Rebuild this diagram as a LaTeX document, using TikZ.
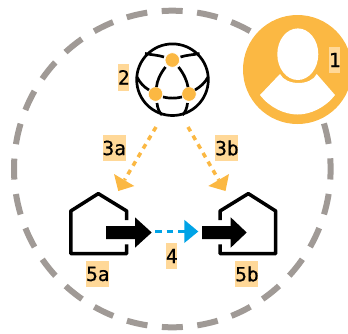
\documentclass[tikz,border=0pt]{standalone}
\usepackage{fontspec}
\setmainfont{DejaVu Sans Mono}[FakeBold=0.6]
\definecolor{ringgrey}{HTML}{A09A96}
\definecolor{amber}{HTML}{FBB843}
\definecolor{tagfill}{HTML}{FFD898}
\definecolor{flowblue}{HTML}{00A3E6}
\tikzset{
  x=1pt,y=-1pt,
  tag/.style={fill=tagfill,inner sep=0pt,minimum height=26.6pt,font=\fontsize{19.5}{20}\selectfont,text=black,anchor=center},
  tagone/.style={tag,minimum width=11.4pt,text width=11.4pt,align=center},
  tagtwo/.style={tag,minimum width=23pt,text width=23pt,align=center},
  ring/.style={draw=ringgrey,line width=6pt,dash pattern=on 21pt off 14.52pt,dash phase=10.5pt},
  globeline/.style={draw=black,line width=2.7pt},
  hub/.style={circle,fill=amber,draw=white,line width=0.6pt,minimum size=14.5pt,inner sep=0pt},
  houseline/.style={draw=black,line width=3.5pt,line join=round,line cap=butt},
  bigarrow/.style={fill=black,draw=none},
  feedorange/.style={draw=amber,line width=3.5pt,dash pattern=on 5pt off 5pt},
  feedblue/.style={draw=flowblue,line width=3.3pt,dash pattern=on 6.5pt off 5pt},
}
\begin{document}
\begin{tikzpicture}
\useasboundingbox (0,0) rectangle (348,333);
\clip (0,0) rectangle (348,333);
% dashed ring
\draw[ring] (172.3,169) circle[radius=158.3];
% person
\fill[amber] (297.5,69.5) circle[radius=54.5];
\fill[white] (297.8,54.2) ellipse[x radius=20.5,y radius=25.8];
\fill[white] (260,95) -- (280,74) .. controls (286,86) and (311,86) .. (316.7,74) -- (335,95)
  .. controls (325,108) and (310,114.5) .. (297.7,114.5) .. controls (285,114.5) and (270,108) .. (260,95) -- cycle;
% globe
\draw[globeline] (172.5,79.7) circle[radius=35.8];
\node[hub] (hubtop) at (172.3,60) {};
\node[hub] (hubleft) at (155.5,94) {};
\node[hub] (hubright) at (189,94) {};
\draw[globeline] (145,53.5) .. controls (152,55) and (158,55) .. (164,57);
\draw[globeline] (199.5,53.5) .. controls (192.5,55) and (186.5,55) .. (180.5,57);
\draw[globeline] (137,77) .. controls (140,83) and (144,87) .. (149,90);
\draw[globeline] (208,77) .. controls (205,83) and (200,87) .. (195,90);
\draw[globeline] (157,103) .. controls (157.5,108) and (159,112) .. (162,115);
\draw[globeline] (187.5,103) .. controls (187,108) and (185.5,112) .. (182.5,115);
\draw[globeline] (165.5,67) .. controls (160,74) and (157,81) .. (156.5,87);
\draw[globeline] (178.5,67) .. controls (184,74) and (187,81) .. (188,87);
\draw[globeline] (163,97) .. controls (169,98.5) and (176,98.5) .. (182,97);
% houses
\draw[houseline] (126.7,220) -- (126.7,211) -- (98.3,193.6) -- (70.8,211) -- (70.8,253.7) -- (126.7,253.7) -- (126.7,244.3);
\draw[houseline] (220,220) -- (220,211) -- (248.3,193.6) -- (275.7,211) -- (275.7,253.7) -- (220,253.7) -- (220,244.3);
% thick arrows
\fill[bigarrow] (106,226) -- (135,226) -- (135,217.3) -- (151.7,232.5) -- (135,247.7) -- (135,239) -- (106,239) -- cycle;
\fill[bigarrow] (202,226) -- (230.7,226) -- (230.7,217.3) -- (246.7,232.5) -- (230.7,247.7) -- (230.7,239) -- (202,239) -- cycle;
% blue connector
\coordinate (bluefrom) at (155,231.7);
\coordinate (blueto) at (185,231.7);
\draw[feedblue] (bluefrom) -- (blueto);
\fill[flowblue] (184.3,219.8) -- (198.3,231.5) -- (184.3,243) -- cycle;
% orange connectors
\coordinate (a3from) at (156,127);
\coordinate (a3to) at (124.5,180);
\coordinate (b3from) at (188,127);
\coordinate (b3to) at (218.7,180);
\draw[feedorange] (a3from) -- (a3to);
\draw[feedorange] (b3from) -- (b3to);
\fill[amber] (114,174) -- (118.3,191) -- (134.3,186) -- cycle;
\fill[amber] (229,174) -- (225.5,191) -- (208.3,186) -- cycle;
% labels
\node[tagone] (l1) at (334.5,60) {1};
\node[tagone] (l2) at (123.7,77.3) {2};
\node[tagtwo] (l3a) at (114,148) {3a};
\node[tagtwo] (l3b) at (226.7,148) {3b};
\node[tagone] (l4) at (171.7,256) {4};
\node[tagtwo] (l5a) at (97.6,274) {5a};
\node[tagtwo] (l5b) at (246.7,274) {5b};
\end{tikzpicture}
\end{document}
